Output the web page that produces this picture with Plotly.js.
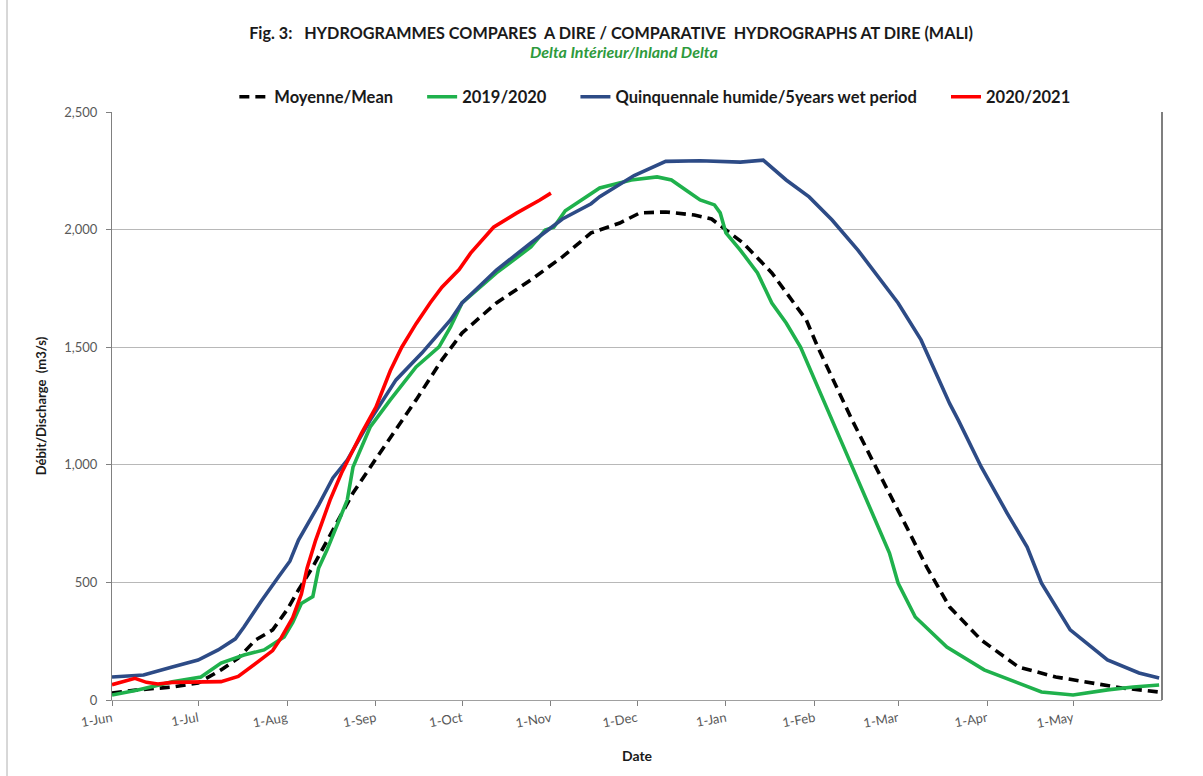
<!DOCTYPE html>
<html>
<head>
<meta charset="utf-8">
<script src="https://cdn.plot.ly/plotly-3.0.1.min.js"></script>
<style>html,body{margin:0;padding:0;background:#fff}#chart{width:1203px;height:776px}</style>
</head>
<body>
<div id="chart"></div>
<script>
// Hydrological year axis (June -> May)
const tickDates = ['2019-06-01','2019-07-01','2019-08-01','2019-09-01','2019-10-01','2019-11-01','2019-12-01','2020-01-01','2020-02-01','2020-03-01','2020-04-01','2020-05-01'];
const tickLabels = ['1-Jun','1-Jul','1-Aug','1-Sep','1-Oct','1-Nov','1-Dec','1-Jan','1-Feb','1-Mar','1-Apr','1-May'];
const seriesNames = ['Moyenne/Mean','2019/2020','Quinquennale humide/5years wet period','2020/2021'];

const meanDates = ['2019-06-01','2019-06-10','2019-06-22','2019-07-01','2019-07-09','2019-07-15','2019-07-21','2019-07-27','2019-08-01','2019-08-05','2019-08-10','2019-08-24','2019-08-31','2019-09-08','2019-09-15','2019-09-24','2019-10-01','2019-10-13','2019-10-25','2019-11-05','2019-11-15','2019-11-25','2019-12-02','2019-12-11','2019-12-21','2019-12-27','2020-01-01','2020-01-07','2020-01-17','2020-01-22','2020-01-29','2020-02-02','2020-02-14','2020-02-21','2020-02-27','2020-02-28','2020-03-04','2020-03-11','2020-03-19','2020-03-30','2020-04-12','2020-04-25','2020-05-07','2020-05-18','2020-05-31'];
const meanVals = [30,43,55,72,128,178,255,298,383,468,566,880,1008,1148,1276,1446,1560,1688,1786,1884,1986,2028,2071,2075,2062,2045,1998,1943,1816,1730,1616,1501,1190,1020,880,850,735,565,395,255,140,98,72,51,34];

const y1920Dates = ['2019-06-01','2019-06-10','2019-06-22','2019-07-02','2019-07-09','2019-07-17','2019-07-24','2019-07-31','2019-08-03','2019-08-06','2019-08-08','2019-08-10','2019-08-12','2019-08-15','2019-08-19','2019-08-22','2019-08-24','2019-08-26','2019-08-30','2019-09-06','2019-09-15','2019-09-23','2019-09-27','2019-10-01','2019-10-13','2019-10-25','2019-10-30','2019-11-02','2019-11-06','2019-11-18','2019-11-29','2019-12-08','2019-12-13','2019-12-18','2019-12-23','2019-12-28','2019-12-30','2020-01-01','2020-01-06','2020-01-12','2020-01-17','2020-01-22','2020-01-27','2020-02-10','2020-02-19','2020-02-27','2020-03-01','2020-03-07','2020-03-18','2020-03-31','2020-04-12','2020-04-20','2020-05-01','2020-05-13','2020-05-22','2020-05-31'];
const y1920Vals = [21,43,77,98,157,191,213,268,330,410,425,440,560,640,760,850,990,1050,1161,1276,1416,1501,1586,1688,1816,1926,1998,2010,2080,2177,2211,2224,2211,2168,2126,2105,2071,1986,1913,1816,1688,1603,1501,1105,850,625,497,353,225,128,72,34,21,43,55,64];

const wetDates = ['2019-06-01','2019-06-12','2019-06-22','2019-07-01','2019-07-08','2019-07-14','2019-07-17','2019-07-23','2019-07-29','2019-08-02','2019-08-05','2019-08-12','2019-08-17','2019-08-22','2019-08-30','2019-09-08','2019-09-17','2019-09-27','2019-10-01','2019-10-13','2019-10-25','2019-11-05','2019-11-15','2019-11-18','2019-11-30','2019-12-11','2019-12-23','2020-01-06','2020-01-14','2020-01-22','2020-01-30','2020-02-07','2020-02-16','2020-02-24','2020-03-01','2020-03-09','2020-03-19','2020-03-22','2020-03-30','2020-04-08','2020-04-15','2020-04-20','2020-04-30','2020-05-13','2020-05-24','2020-05-31'];
const wetVals = [98,106,140,170,213,260,310,420,523,590,680,829,944,1020,1190,1361,1475,1616,1688,1828,1943,2045,2110,2140,2230,2290,2293,2287,2295,2211,2139,2041,1913,1786,1688,1531,1260,1190,991,795,650,497,298,170,115,94];

const y2021Dates = ['2019-06-01','2019-06-06','2019-06-09','2019-06-13','2019-06-17','2019-06-22','2019-07-01','2019-07-09','2019-07-15','2019-07-22','2019-07-27','2019-07-30','2019-08-03','2019-08-06','2019-08-08','2019-08-11','2019-08-16','2019-08-20','2019-08-27','2019-09-01','2019-09-06','2019-09-10','2019-09-15','2019-09-20','2019-09-24','2019-09-30','2019-10-04','2019-10-12','2019-10-20','2019-10-28','2019-11-01'];
const y2021Vals = [65,80,92,75,68,75,78,78,100,165,210,265,350,450,560,680,850,965,1135,1245,1400,1500,1600,1690,1755,1830,1900,2010,2070,2125,2155];

const fontFam = 'Lato, "Open Sans", sans-serif';
const legendPad = '\u00a0\u00a0\u00a0\u00a0\u00a0\u00a0';

const traces = [
  {x: meanDates, y: meanVals, name: seriesNames[0] + legendPad, mode: 'lines', line: {color: '#000000', width: 3.6, dash: '10px,6px'}},
  {x: y1920Dates, y: y1920Vals, name: seriesNames[1] + legendPad, mode: 'lines', line: {color: '#1fb14c', width: 3.6}},
  {x: wetDates, y: wetVals, name: seriesNames[2] + legendPad, mode: 'lines', line: {color: '#2d4b86', width: 3.6}},
  {x: y2021Dates, y: y2021Vals, name: seriesNames[3], mode: 'lines', line: {color: '#ff0000', width: 3.6}}
];

const layout = {
  width: 1203, height: 776,
  margin: {l: 112, r: 41, t: 112, b: 76},
  paper_bgcolor: '#ffffff', plot_bgcolor: '#ffffff',
  font: {family: fontFam, size: 12, color: '#404040'},
  title: {
    text: '<b>Fig. 3:   HYDROGRAMMES COMPARES  A DIRE / COMPARATIVE  HYDROGRAPHS AT DIRE (MALI)</b>',
    font: {family: fontFam, size: 16.2, color: '#1a1a1a'},
    x: 0.508, xanchor: 'center', y: 1 - 33/776, yanchor: 'middle', yref: 'container'
  },
  annotations: [{
    text: '<b><i>Delta Intérieur/Inland Delta</i></b>',
    xref: 'paper', yref: 'paper', x: 0.4876, xanchor: 'center',
    y: 1 + (112 - 51)/588, yanchor: 'middle', showarrow: false,
    font: {family: fontFam, size: 16, color: '#2e9a3c'}
  }],
  showlegend: true,
  legend: {
    orientation: 'h', x: 0.517, xanchor: 'center', y: 1 + (112 - 97)/588, yanchor: 'middle',
    font: {family: fontFam, size: 16.5, color: '#1a1a1a', weight: 'bold'},
    itemwidth: 30, tracegroupgap: 0, bgcolor: 'rgba(0,0,0,0)'
  },
  xaxis: {
    type: 'date', range: ['2019-06-01', '2020-06-01'],
    tickvals: tickDates, ticktext: tickLabels, tickangle: -10,
    ticks: 'outside', ticklen: 5, tickcolor: '#808080',
    showline: true, linecolor: '#a0a0a0', linewidth: 1,
    showgrid: false, zeroline: false,
    tickfont: {family: fontFam, size: 13, color: '#595959'},
    title: {text: '<b>Date</b>', font: {family: fontFam, size: 14, color: '#1a1a1a'}, standoff: 21}
  },
  yaxis: {
    range: [0, 2500], dtick: 500, tickformat: ',d',
    ticks: 'outside', ticklen: 5, tickcolor: '#808080',
    ticklabelstandoff: 6,
    showline: true, linecolor: '#808080', linewidth: 1, mirror: false,
    showgrid: true, gridcolor: '#b8b8b8', gridwidth: 1, zeroline: false,
    tickfont: {family: fontFam, size: 13, color: '#595959'},
    title: {text: '<b>Débit/Discharge  (m3/s)</b>', font: {family: fontFam, size: 13, color: '#1a1a1a'}, standoff: 14}
  },
  shapes: [
    {type: 'line', xref: 'paper', yref: 'paper', x0: 1, x1: 1, y0: 0, y1: 1, line: {color: '#555555', width: 1.5}},
    {type: 'line', xref: 'paper', yref: 'paper', x0: (7-112)/1050, x1: (7-112)/1050, y0: -76/588, y1: 1 + 112/588, line: {color: '#b0b0b0', width: 1}}
  ]
};

Plotly.newPlot('chart', traces, layout, {displayModeBar: false, staticPlot: true});
</script>
</body>
</html>
